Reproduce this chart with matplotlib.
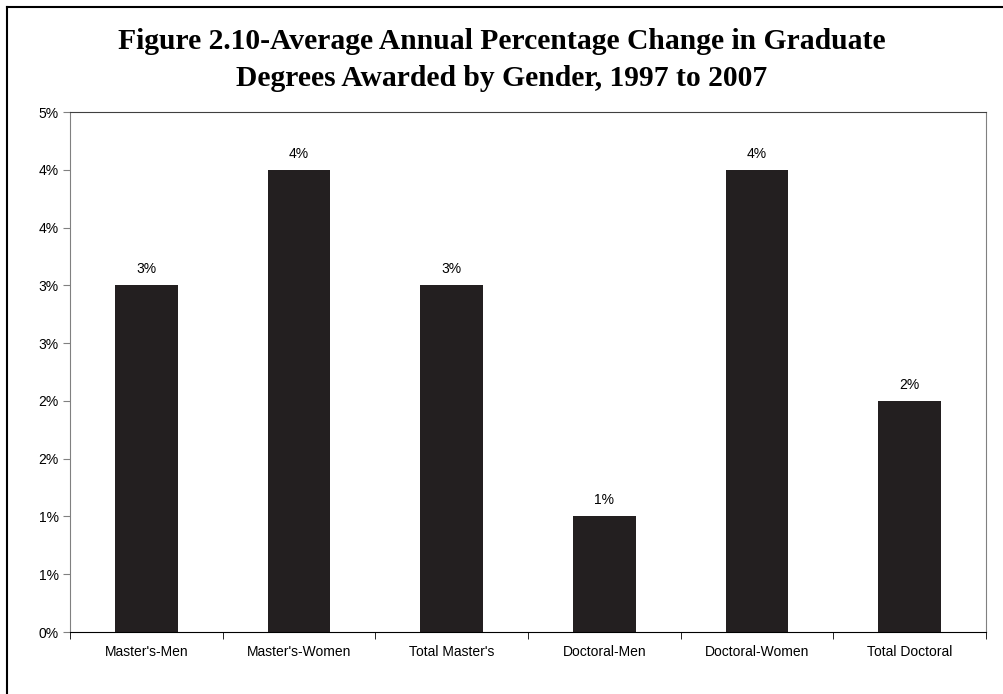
import matplotlib.pyplot as plt
from matplotlib.lines import Line2D

# Average annual % change, 1997 to 2007
categories = ["Master's-Men", "Master's-Women", "Total Master's",
              "Doctoral-Men", "Doctoral-Women", "Total Doctoral"]
values = [3.0, 4.0, 3.0, 1.0, 4.0, 2.0]
bar_labels = ["3%", "4%", "3%", "1%", "4%", "2%"]

# axis labels as printed in the source (rounded half up)
y_ticks = [0, 0.5, 1, 1.5, 2, 2.5, 3, 3.5, 4, 4.5]
y_tick_labels = ["0%", "1%", "1%", "2%", "2%", "3%", "3%", "4%", "4%", "5%"]

fig = plt.figure(figsize=(10.04, 6.94), dpi=100)
ax = fig.add_axes([0.0697, 0.0893, 0.9124, 0.7493])

x = range(len(categories))
bars = ax.bar(x, values, width=0.41, color='#231f20')

for b, lab in zip(bars, bar_labels):
    ax.text(b.get_x() + b.get_width() / 2, b.get_height() + 0.08, lab,
            ha='center', va='bottom', fontsize=10, family='Liberation Sans')

ax.set_xlim(-0.5, len(categories) - 0.5)
ax.set_ylim(0, 4.5)
ax.set_yticks(y_ticks)
ax.set_yticklabels(y_tick_labels, family='Liberation Sans', fontsize=10)

ax.set_xticks(list(x))
ax.set_xticklabels(categories, family='Liberation Sans', fontsize=10)
ax.tick_params(axis='x', length=0, pad=9)
ax.set_xticks([i - 0.5 for i in range(len(categories) + 1)], minor=True)
ax.tick_params(axis='x', which='minor', length=5, direction='out', color='black')
ax.tick_params(axis='y', length=5, direction='out', color='#808080', pad=3)

for side in ['left', 'right']:
    ax.spines[side].set_color('#808080')
ax.spines['top'].set_color('#404040')
ax.spines['bottom'].set_color('black')

fig.text(0.5, 0.959, "Figure 2.10-Average Annual Percentage Change in Graduate\n"
         "Degrees Awarded by Gender, 1997 to 2007",
         ha='center', va='top', fontsize=21.3, fontweight='bold',
         family='Liberation Serif', linespacing=1.44)

# outer frame (top and left edges only visible)
fig.add_artist(Line2D([0.007, 1.0], [0.99, 0.99], color='black', lw=1.5, transform=fig.transFigure))
fig.add_artist(Line2D([0.007, 0.007], [0.0, 0.99], color='black', lw=1.5, transform=fig.transFigure))

fig.savefig('out.png', dpi=100)
